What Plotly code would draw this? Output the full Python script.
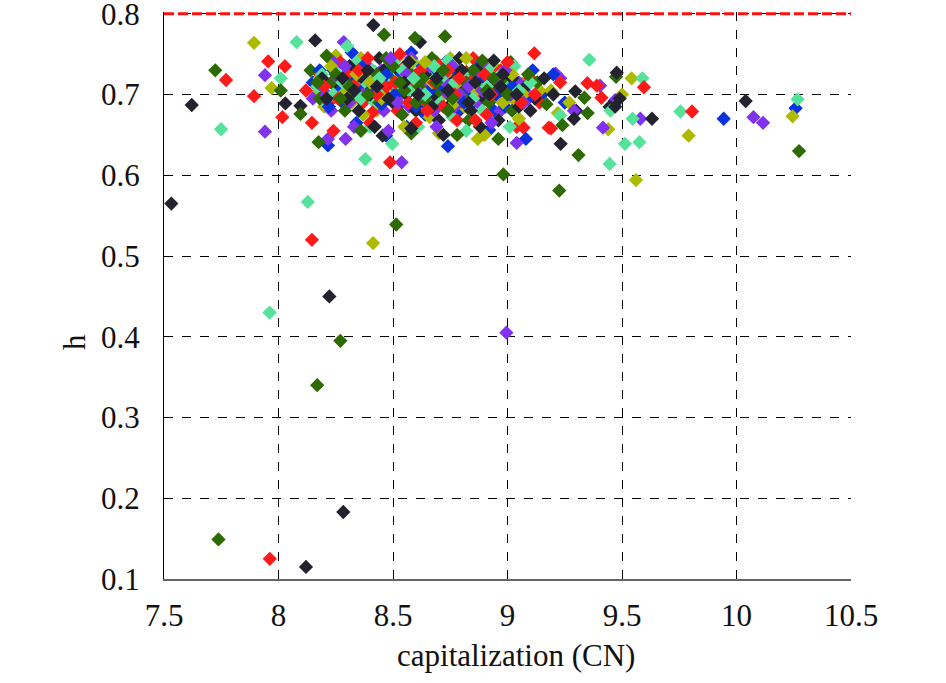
import plotly.graph_objects as go

# ---------------- data ----------------
black_x = [7.532, 7.621, 8.222, 8.283, 8.12, 8.414, 8.618, 8.16, 8.03, 8.096, 8.455, 9.232, 9.296, 9.30, 9.29, 9.446, 9.49, 9.47, 9.477, 9.631, 10.04,
           8.25, 8.31, 8.36, 8.40, 8.44, 8.47, 8.50, 8.53, 8.56, 8.60, 8.62, 8.65, 8.68, 8.70, 8.73, 8.76, 8.79, 8.81, 8.84, 8.87,
           8.90, 8.93, 8.96, 8.99, 9.02, 9.05, 9.08, 9.12, 9.16, 8.35, 8.42, 8.58, 8.72, 8.88, 8.30, 8.19, 8.46, 8.64, 8.94, 9.20, 8.78,
           8.21, 8.28, 8.33, 8.39, 8.48, 8.55, 8.61, 8.67, 8.74, 8.80, 8.86, 8.92, 8.98, 9.04, 9.10, 8.43, 8.57, 8.69, 8.83, 8.97]
black_y = [0.565, 0.687, 0.450, 0.183, 0.115, 0.786, 0.765, 0.767, 0.689, 0.686, 0.649, 0.639, 0.704, 0.680, 0.670, 0.685, 0.695, 0.685, 0.727, 0.670, 0.692,
           0.710, 0.735, 0.722, 0.700, 0.745, 0.713, 0.690, 0.728, 0.700, 0.680, 0.718, 0.735, 0.700, 0.668, 0.722, 0.690, 0.745, 0.705, 0.680, 0.730,
           0.695, 0.715, 0.668, 0.700, 0.720, 0.685, 0.710, 0.695, 0.720, 0.680, 0.660, 0.658, 0.650, 0.660, 0.695, 0.720, 0.730, 0.725, 0.742, 0.700, 0.720,
           0.695, 0.720, 0.705, 0.730, 0.695, 0.715, 0.700, 0.685, 0.705, 0.730, 0.715, 0.700, 0.725, 0.700, 0.680, 0.710, 0.740, 0.720, 0.690, 0.710]

red_x = [8.146, 7.962, 8.487, 7.771, 7.893, 7.955, 8.028, 8.017, 8.146, 9.117, 9.596, 9.806, 9.18, 9.19, 9.07, 9.39, 9.349, 9.41,
         8.12, 8.18, 8.22, 8.27, 8.33, 8.37, 8.41, 8.45, 8.49, 8.52, 8.55, 8.59, 8.63, 8.66, 8.69, 8.72, 8.75, 8.78, 8.82, 8.85,
         8.88, 8.91, 8.95, 8.98, 9.01, 9.04, 9.10, 9.14, 8.24, 8.40, 8.60, 8.80, 8.97, 8.30, 8.53, 8.71, 9.23, 8.86,
         8.20, 8.26, 8.35, 8.43, 8.47, 8.57, 8.62, 8.68, 8.74, 8.77, 8.84, 8.90, 8.93, 9.00, 9.06, 8.39, 8.51, 8.65, 8.79, 9.12]
red_y = [0.520, 0.125, 0.616, 0.718, 0.698, 0.741, 0.735, 0.672, 0.665, 0.751, 0.709, 0.679, 0.659, 0.658, 0.659, 0.711, 0.714, 0.696,
         0.705, 0.725, 0.690, 0.740, 0.713, 0.690, 0.678, 0.722, 0.700, 0.680, 0.735, 0.712, 0.690, 0.705, 0.740, 0.685, 0.710, 0.668, 0.728, 0.745,
         0.700, 0.675, 0.720, 0.690, 0.705, 0.660, 0.720, 0.690, 0.655, 0.665, 0.665, 0.692, 0.730, 0.725, 0.750, 0.720, 0.715, 0.668,
         0.710, 0.695, 0.730, 0.700, 0.710, 0.690, 0.730, 0.715, 0.730, 0.700, 0.715, 0.725, 0.700, 0.740, 0.690, 0.745, 0.715, 0.680, 0.720, 0.700]

blue_x = [8.216, 8.47, 9.944, 10.258, 9.25,
          8.15, 8.20, 8.24, 8.28, 8.32, 8.35, 8.38, 8.42, 8.46, 8.49, 8.52, 8.55, 8.58, 8.61, 8.64, 8.67, 8.70, 8.73, 8.76, 8.79,
          8.82, 8.85, 8.88, 8.91, 8.94, 8.97, 9.00, 9.03, 9.06, 9.11, 9.15, 9.20, 8.34, 8.56, 8.74, 8.92, 9.08, 8.45, 8.63, 8.99, 8.27,
          8.18, 8.22, 8.30, 8.37, 8.40, 8.44, 8.51, 8.54, 8.60, 8.66, 8.69, 8.72, 8.78, 8.84, 8.90, 8.95, 9.02, 9.09, 8.47, 8.81]
blue_y = [0.637, 0.649, 0.670, 0.683, 0.690,
          0.715, 0.700, 0.730, 0.690, 0.752, 0.710, 0.695, 0.728, 0.705, 0.740, 0.685, 0.715, 0.752, 0.700, 0.675, 0.720, 0.690, 0.740, 0.705, 0.680,
          0.715, 0.690, 0.738, 0.710, 0.680, 0.705, 0.725, 0.695, 0.712, 0.730, 0.700, 0.725, 0.665, 0.660, 0.636, 0.656, 0.645, 0.688, 0.735, 0.685, 0.705,
          0.730, 0.685, 0.720, 0.735, 0.705, 0.715, 0.700, 0.725, 0.685, 0.705, 0.730, 0.710, 0.725, 0.705, 0.720, 0.700, 0.710, 0.695, 0.725, 0.690]

green_x = [7.738, 8.169, 8.27, 8.514, 8.982, 9.226, 9.31, 10.273, 7.724, 8.01, 8.096, 8.175, 8.461, 8.596, 8.727, 9.014, 9.474, 9.336, 9.35, 9.24,
           8.14, 8.18, 8.23, 8.29, 8.33, 8.37, 8.41, 8.44, 8.48, 8.51, 8.54, 8.57, 8.61, 8.64, 8.67, 8.70, 8.74, 8.77, 8.80, 8.83,
           8.86, 8.89, 8.92, 8.95, 8.98, 9.02, 9.06, 9.13, 8.36, 8.58, 8.78, 8.96, 8.21, 8.47, 8.66, 9.17,
           8.17, 8.25, 8.31, 8.39, 8.43, 8.50, 8.55, 8.60, 8.63, 8.69, 8.72, 8.76, 8.82, 8.85, 8.91, 8.94, 9.00, 9.09, 8.27, 8.53]
green_y = [0.149, 0.340, 0.395, 0.539, 0.601, 0.581, 0.625, 0.630, 0.730, 0.705, 0.676, 0.641, 0.774, 0.770, 0.772, 0.740, 0.722, 0.696, 0.677, 0.662,
           0.730, 0.695, 0.715, 0.680, 0.700, 0.735, 0.712, 0.690, 0.722, 0.700, 0.675, 0.728, 0.710, 0.695, 0.745, 0.705, 0.680, 0.725, 0.700, 0.668,
           0.710, 0.742, 0.690, 0.705, 0.720, 0.680, 0.700, 0.715, 0.655, 0.652, 0.650, 0.645, 0.748, 0.745, 0.685, 0.688,
           0.715, 0.725, 0.710, 0.700, 0.725, 0.735, 0.705, 0.690, 0.720, 0.715, 0.730, 0.695, 0.715, 0.730, 0.705, 0.720, 0.700, 0.725, 0.695, 0.715]

olive_x = [8.413, 7.893, 7.97, 9.561, 9.791, 10.245, 9.542, 9.50, 9.44, 9.27, 9.22,
           8.16, 8.20, 8.25, 8.29, 8.32, 8.36, 8.39, 8.43, 8.46, 8.50, 8.53, 8.56, 8.60, 8.63, 8.66, 8.69, 8.72, 8.75, 8.78, 8.81,
           8.84, 8.87, 8.90, 8.93, 8.96, 9.00, 9.04, 9.09, 9.14, 8.37, 8.55, 8.70, 8.90, 9.05, 8.28, 8.48, 8.82, 9.19,
           8.18, 8.23, 8.30, 8.34, 8.41, 8.45, 8.51, 8.58, 8.62, 8.67, 8.73, 8.77, 8.80, 8.86, 8.92, 8.98, 9.02, 9.07, 8.40, 8.64]
olive_y = [0.516, 0.764, 0.708, 0.594, 0.649, 0.673, 0.720, 0.700, 0.657, 0.690, 0.677,
           0.700, 0.685, 0.748, 0.722, 0.690, 0.745, 0.705, 0.680, 0.715, 0.735, 0.695, 0.720, 0.685, 0.705, 0.672, 0.730, 0.700, 0.745, 0.710, 0.685,
           0.725, 0.645, 0.720, 0.695, 0.730, 0.710, 0.690, 0.720, 0.705, 0.675, 0.660, 0.652, 0.650, 0.670, 0.700, 0.700, 0.745, 0.705,
           0.720, 0.735, 0.705, 0.725, 0.730, 0.695, 0.715, 0.740, 0.700, 0.715, 0.725, 0.690, 0.720, 0.705, 0.700, 0.690, 0.725, 0.700, 0.715, 0.740]

aqua_x = [8.128, 8.379, 7.961, 7.749, 8.01, 8.079, 8.497, 9.357, 9.589, 9.755, 10.267, 9.546, 9.513, 9.576, 9.446, 9.45, 9.23,
          8.17, 8.21, 8.26, 8.30, 8.34, 8.38, 8.42, 8.45, 8.49, 8.52, 8.56, 8.59, 8.62, 8.66, 8.69, 8.72, 8.76, 8.79, 8.83, 8.86,
          8.89, 8.92, 8.95, 8.99, 9.03, 9.07, 9.12, 8.40, 8.61, 8.82, 9.01, 8.52, 8.74, 8.30,
          8.19, 8.24, 8.28, 8.36, 8.41, 8.47, 8.54, 8.57, 8.64, 8.68, 8.71, 8.77, 8.81, 8.85, 8.91, 8.97, 9.05, 9.10, 8.44, 8.59]
aqua_y = [0.567, 0.620, 0.430, 0.657, 0.720, 0.765, 0.639, 0.743, 0.720, 0.679, 0.694, 0.670, 0.639, 0.641, 0.614, 0.680, 0.674,
          0.710, 0.690, 0.725, 0.700, 0.740, 0.715, 0.690, 0.705, 0.725, 0.710, 0.690, 0.740, 0.715, 0.725, 0.695, 0.710, 0.672, 0.730, 0.700, 0.720,
          0.680, 0.730, 0.700, 0.715, 0.735, 0.690, 0.700, 0.660, 0.660, 0.655, 0.660, 0.745, 0.742, 0.760,
          0.725, 0.700, 0.715, 0.695, 0.730, 0.715, 0.730, 0.705, 0.700, 0.735, 0.720, 0.715, 0.725, 0.695, 0.710, 0.725, 0.705, 0.715, 0.720, 0.720]

purple_x = [8.538, 8.995, 7.941, 7.941, 8.285, 8.216, 8.293, 10.074, 10.116, 9.58, 9.47, 9.417, 9.404, 9.29, 9.21, 9.23,
            8.15, 8.19, 8.23, 8.27, 8.31, 8.35, 8.39, 8.43, 8.46, 8.50, 8.54, 8.57, 8.61, 8.64, 8.68, 8.71, 8.74, 8.77, 8.81, 8.84,
            8.87, 8.90, 8.94, 8.97, 9.01, 9.05, 9.09, 8.33, 8.48, 8.69, 8.93, 9.04, 8.58, 8.24,
            8.21, 8.26, 8.29, 8.37, 8.41, 8.45, 8.52, 8.56, 8.62, 8.66, 8.73, 8.76, 8.79, 8.86, 8.89, 8.95, 8.99, 9.07, 8.49, 8.83]
purple_y = [0.616, 0.405, 0.654, 0.724, 0.765, 0.645, 0.645, 0.672, 0.665, 0.670, 0.693, 0.659, 0.711, 0.680, 0.726, 0.720,
            0.695, 0.710, 0.680, 0.705, 0.690, 0.725, 0.735, 0.700, 0.680, 0.715, 0.700, 0.685, 0.725, 0.710, 0.680, 0.730, 0.700, 0.685, 0.720, 0.700,
            0.690, 0.735, 0.705, 0.680, 0.700, 0.715, 0.700, 0.660, 0.655, 0.660, 0.665, 0.640, 0.745, 0.740,
            0.700, 0.720, 0.735, 0.700, 0.715, 0.730, 0.690, 0.725, 0.700, 0.735, 0.715, 0.735, 0.700, 0.725, 0.705, 0.720, 0.730, 0.690, 0.745, 0.710]

H_REF = 0.8
x_ticks = [7.5, 8, 8.5, 9, 9.5, 10, 10.5]
y_ticks = [0.1, 0.2, 0.3, 0.4, 0.5, 0.6, 0.7, 0.8]

# ---------------- figure ----------------
series = [
    (black_x, black_y, "#23232f"),
    (red_x, red_y, "#ff1a1a"),
    (blue_x, blue_y, "#0a32e0"),
    (green_x, green_y, "#2d6b02"),
    (olive_x, olive_y, "#adba00"),
    (aqua_x, aqua_y, "#55e39c"),
    (purple_x, purple_y, "#8032ee"),
]

# interleave the groups so that no colour sits entirely on top
px, py, pc = [], [], []
n = max(len(s[0]) for s in series)
for i in range(n):
    for xs, ys, col in series:
        if i < len(xs):
            px.append(xs[i]); py.append(ys[i]); pc.append(col)

fig = go.Figure()
fig.add_trace(go.Scatter(
    x=px, y=py, mode="markers",
    marker=dict(symbol="diamond", size=11, color=pc, line=dict(width=0)),
    showlegend=False, hoverinfo="skip"))

fig.add_hline(y=H_REF, line=dict(color="#ff1010", width=3, dash="10px,4px"), layer="above")

FONT = "Liberation Serif"
axis_common = dict(
    showgrid=True, gridcolor="black", griddash="dash", gridwidth=1.3,
    zeroline=False, ticks="", showline=True, ticklabeloverflow="allow", automargin=False,
    tickfont=dict(family=FONT, size=31, color="#111"),
)
fig.update_xaxes(range=[7.5, 10.5], tickvals=x_ticks, linecolor="#666", linewidth=2,
                 ticklabelstandoff=8, **axis_common)
# a hair of headroom so the red reference line at the top is not clipped in half
fig.update_yaxes(range=[0.1, 0.8022], tickvals=y_ticks, tickformat=".1f", linecolor="black", linewidth=1,
                 ticklabelstandoff=17, **axis_common)

fig.update_layout(
    width=946, height=683,
    margin=dict(l=164, r=95, t=12, b=104, autoexpand=False),
    plot_bgcolor="white", paper_bgcolor="white",
    font=dict(family=FONT, color="#111"),
    annotations=[
        dict(text="capitalization (CN)", x=0.512, y=-0.1345, xref="paper", yref="paper",
             showarrow=False, font=dict(family=FONT, size=31, color="#111"),
             xanchor="center", yanchor="middle"),
        dict(text="h", x=-0.1295, y=0.418, xref="paper", yref="paper", textangle=-90,
             showarrow=False, font=dict(family=FONT, size=31, color="#111"),
             xanchor="center", yanchor="middle"),
    ],
)

fig.write_html("out.html", config={"displayModeBar": False},
               post_script="document.body.style.margin='0';document.body.style.overflow='hidden';")
